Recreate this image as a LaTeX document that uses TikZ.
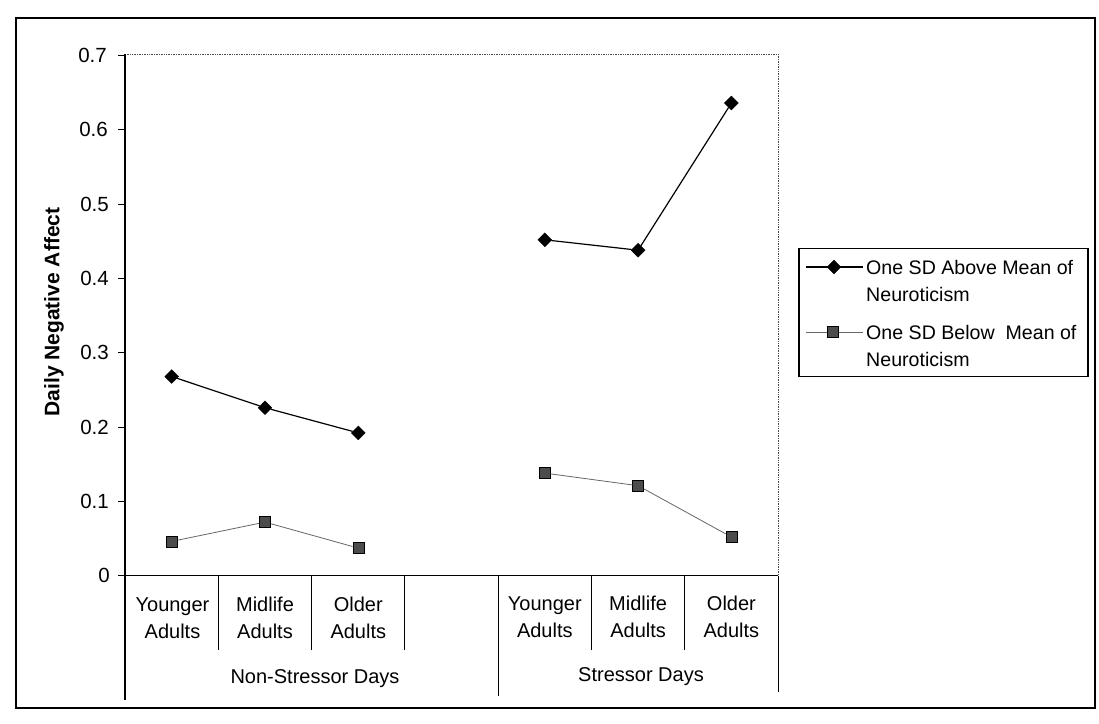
\documentclass[tikz,border=0pt]{standalone}
\usepackage{fontspec}
\setmainfont{Liberation Sans}
\usetikzlibrary{shapes.geometric}
\begin{document}
\begin{tikzpicture}[x=1pt,y=-1pt,
  lbl/.style={font=\fontsize{20.5}{27}\selectfont, inner sep=0pt},
  catlbl/.style={font=\fontsize{20}{27}\selectfont, inner sep=0pt, align=center},
  leglbl/.style={font=\fontsize{19.6}{27}\selectfont, inner sep=0pt, align=left, anchor=west},
  dia/.style={diamond, fill=black, draw=black, minimum size=14pt, inner sep=0pt},
  sqm/.style={rectangle, fill=black!70, draw=black, line width=0.6pt, minimum size=11pt, inner sep=0pt},
  hi/.style={line width=1.2pt, black},
  lo/.style={line width=0.8pt, black!60},
  frame/.style={line width=1.8pt, black},
  axisline/.style={line width=1.2pt, black},
  plotedge/.style={line width=0.7pt, black!70, densely dotted},
  divider/.style={line width=1pt, black}]
\useasboundingbox (0,0) rectangle (1099,723);
% outer frame
\draw[frame] (16,18) rectangle (1095,708);
% plot area edges
\coordinate (pTL) at (125,54);
\coordinate (pTR) at (778,54);
\coordinate (pBR) at (778,575.6);
\coordinate (pBL) at (125,575.6);
\draw[plotedge] (pTL) -- (pTR) -- (pBR);
\draw[axisline] (pTL) -- (125,700);
\draw[axisline] (pBL) -- (pBR);
% y ticks and labels
\foreach \k in {0,...,7}{
  \pgfmathsetmacro{\vv}{575.6-74.3*\k}
  \draw[line width=0.8pt] (118,\vv) -- (125,\vv);
}
\node[lbl, anchor=east] (t0) at (110,575.6) {0};
\node[lbl, anchor=east] (t1) at (109,501.3) {0.1};
\node[lbl, anchor=east] (t2) at (109,427.0) {0.2};
\node[lbl, anchor=east] (t3) at (109,352.7) {0.3};
\node[lbl, anchor=east] (t4) at (109,278.4) {0.4};
\node[lbl, anchor=east] (t5) at (109,204.1) {0.5};
\node[lbl, anchor=east] (t6) at (108,129.8) {0.6};
\node[lbl, anchor=east] (t7) at (107,55.5) {0.7};
\node[inner sep=0pt, font=\bfseries\fontsize{21}{24}\selectfont, rotate=90] (ytitle) at (54,312) {Daily Negative Affect};
% category axis dividers
\draw[divider] (218.3,575.6) -- (218.3,650);
\draw[divider] (311.6,575.6) -- (311.6,650);
\draw[divider] (404.9,575.6) -- (404.9,650);
\draw[divider] (498.1,575.6) -- (498.1,696);
\draw[divider] (591.4,575.6) -- (591.4,650);
\draw[divider] (684.7,575.6) -- (684.7,650);
\draw[divider] (778,575.6) -- (778,692);
% category labels
\node[catlbl] (c1) at (172.5,618) {Younger\\Adults};
\node[catlbl] (c2) at (265.0,618) {Midlife\\Adults};
\node[catlbl] (c3) at (358.3,618) {Older\\Adults};
\node[catlbl] (c5) at (544.8,617) {Younger\\Adults};
\node[catlbl] (c6) at (638.1,617) {Midlife\\Adults};
\node[catlbl] (c7) at (731.4,617) {Older\\Adults};
\node[catlbl] (g1) at (315,679) {Non-Stressor Days};
\node[catlbl] (g2) at (641,677) {Stressor Days};
% series: one SD above
\node[dia] (a1) at (171.7,376.5) {};
\node[dia] (a2) at (265.0,407.7) {};
\node[dia] (a3) at (358.3,432.9) {};
\node[dia] (a5) at (544.8,239.8) {};
\node[dia] (a6) at (638.1,250.2) {};
\node[dia] (a7) at (731.4,103.0) {};
\draw[hi] (a1) -- (a2) -- (a3);
\draw[hi] (a5) -- (a6) -- (a7);
% series: one SD below
\node[sqm] (b1) at (171.7,541.4) {};
\node[sqm] (b2) at (265.0,522.1) {};
\node[sqm] (b3) at (358.3,548.1) {};
\node[sqm] (b5) at (544.8,473.1) {};
\node[sqm] (b6) at (638.1,485.7) {};
\node[sqm] (b7) at (731.4,537.0) {};
\draw[lo] (b1) -- (b2) -- (b3);
\draw[lo] (b5) -- (b6) -- (b7);
% legend
\draw[line width=1.3pt] (799,248.7) rectangle (1088,376.7);
\coordinate (l1a) at (806,267);
\coordinate (l1b) at (863,267);
\draw[hi] (l1a) -- (l1b);
\node[dia] (lm1) at (834,267) {};
\node[leglbl] (lt1) at (866,280.5) {One SD Above Mean of\\Neuroticism};
\coordinate (l2a) at (806,332);
\coordinate (l2b) at (863,332);
\draw[lo] (l2a) -- (l2b);
\node[sqm] (lm2) at (833,332) {};
\node[leglbl] (lt2) at (866,345.5) {One SD Below\ \ Mean of\\Neuroticism};
\end{tikzpicture}
\end{document}
